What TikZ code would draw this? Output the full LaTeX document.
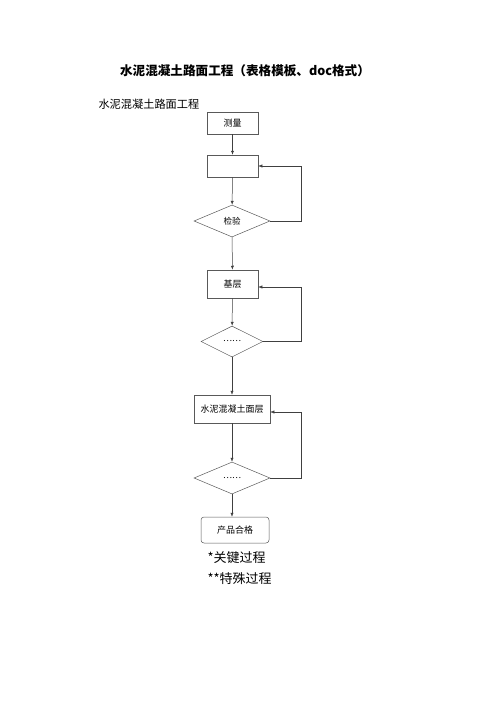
\documentclass[tikz,border=0pt]{standalone}
\usepackage{fontspec}
\setmainfont{Noto Sans CJK SC}
\usepackage{tikz}
\usetikzlibrary{shapes.geometric,arrows.meta,positioning}

\begin{document}
\begin{tikzpicture}[
    x=1pt, y=-1pt,
    >={Latex[length=4pt,width=3.2pt]},
    stepbox/.style={draw=black!65, line width=0.5pt, minimum width=51pt, minimum height=22pt, inner sep=0pt, font=\fontsize{9}{10}\selectfont},
    widebox/.style={stepbox, minimum width=76pt, minimum height=28pt},
    check/.style={diamond, draw=black!65, line width=0.5pt, minimum width=76pt, minimum height=32pt, inner sep=0pt, font=\fontsize{8.5}{10}\selectfont},
    endbox/.style={stepbox, rounded corners=3pt, minimum width=68pt, minimum height=26pt},
    flow/.style={->, draw=black!75, line width=0.5pt},
    note/.style={anchor=west, font=\fontsize{13}{15}\selectfont}
]
    \useasboundingbox (0,0) rectangle (496,702);

    % === HEADINGS ===
    \node[font=\fontsize{12.6}{15}\selectfont\bfseries] (title) at (245,71) {水泥混凝土路面工程（表格模板、doc格式）};
    \node[anchor=west, font=\fontsize{11.2}{13}\selectfont] (subtitle) at (95,104) {水泥混凝土路面工程};

    % === STEPS ===
    \node[stepbox] (survey) at (232.5,123) {测量};
    \node[stepbox] (blank) at (232.5,166) {};
    \node[check] (inspect) at (232,221) {检验};
    \node[stepbox, minimum height=28pt] (base) at (232.5,284) {基层};
    \node[check, minimum width=62pt, minimum height=31pt] (dots1) at (232,341.5) {……};
    \node[widebox] (surface) at (232,409) {水泥混凝土面层};
    \node[check] (dots2) at (232,478) {……};
    \node[endbox] (pass) at (235,530) {产品合格};

    % feedback column
    \coordinate (fb) at (301,0);

    % === FLOW ===
    \draw[flow] (survey) -- (blank);
    \draw[flow] (blank) -- (inspect);
    \draw[flow] (inspect) -- (base);
    \draw[flow] (base) -- (dots1);
    \draw[flow] (dots1) -- (surface);
    \draw[flow] (surface) -- (dots2);
    \draw[flow] (dots2.south) -- (dots2.south |- pass.north);

    % Loops back
    \draw[flow] (inspect.east) -- (inspect.east -| fb) |- (blank.east);
    \draw[flow] (dots1.east) -- (dots1.east -| fb) |- ([yshift=-3pt]base.east);
    \draw[flow] (dots2.east) -- (dots2.east -| fb) |- ([yshift=-3pt]surface.east);

    % Legend
    \node[note] (key1) at (204,558) {*关键过程};
    \node[note] (key2) at (204,579) {**特殊过程};

\end{tikzpicture}
\end{document}
